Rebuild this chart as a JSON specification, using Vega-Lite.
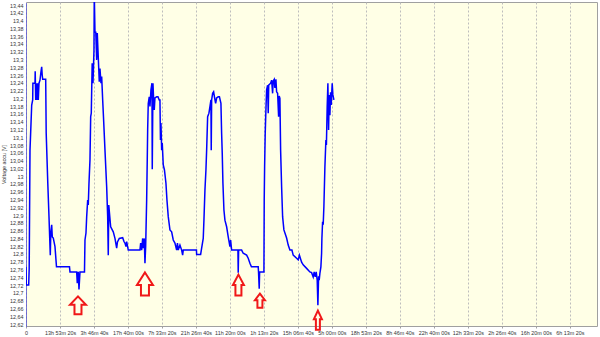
{
  "$schema": "https://vega.github.io/schema/vega-lite/v6.json",
  "width": 571,
  "height": 324,
  "autosize": {"type": "none"},
  "padding": {"left": 26, "top": 2, "right": 3, "bottom": 11},
  "background": "white",
  "config": {
    "view": {"fill": "#FFFFE6", "stroke": "#A0A0A0", "strokeWidth": 1},
    "font": "Liberation Sans",
    "axis": {"labelOverlap": false, "labelFlush": false, "labelBound": false}
  },
  "datasets": {
    "series": [
      {"t":0,"v":12.767},{"t":441,"v":12.72},{"t":3971,"v":12.72},{"t":4706,"v":12.764},{"t":5882,"v":13.067},{"t":8382,"v":13.183},{"t":9853,"v":13.196},{"t":10147,"v":13.239},{"t":13235,"v":13.239},{"t":13529,"v":13.27},{"t":14265,"v":13.196},{"t":15147,"v":13.239},{"t":16176,"v":13.196},{"t":17206,"v":13.239},{"t":18088,"v":13.196},{"t":19118,"v":13.239},{"t":20588,"v":13.247},{"t":22059,"v":13.269},{"t":23088,"v":13.281},{"t":23824,"v":13.26},{"t":24559,"v":13.249},{"t":28971,"v":13.249},{"t":29706,"v":13.111},{"t":32059,"v":12.982},{"t":33824,"v":12.896},{"t":35294,"v":12.819},{"t":35735,"v":12.797},{"t":36471,"v":12.854},{"t":37794,"v":12.875},{"t":38676,"v":12.844},{"t":40147,"v":12.841},{"t":42647,"v":12.819},{"t":44853,"v":12.767},{"t":63971,"v":12.767},{"t":64706,"v":12.754},{"t":74559,"v":12.754},{"t":75441,"v":12.725},{"t":76912,"v":12.754},{"t":77941,"v":12.709},{"t":79412,"v":12.754},{"t":86029,"v":12.754},{"t":86765,"v":12.836},{"t":88235,"v":12.854},{"t":89265,"v":12.896},{"t":90735,"v":12.939},{"t":91618,"v":12.926},{"t":92647,"v":12.982},{"t":94118,"v":13.042},{"t":95147,"v":13.153},{"t":96029,"v":13.162},{"t":97353,"v":13.29},{"t":98529,"v":13.239},{"t":100000,"v":13.324},{"t":100441,"v":13.47},{"t":101471,"v":13.37},{"t":102647,"v":13.37},{"t":103971,"v":13.299},{"t":104853,"v":13.368},{"t":105882,"v":13.324},{"t":106912,"v":13.281},{"t":107794,"v":13.243},{"t":108824,"v":13.277},{"t":110294,"v":13.239},{"t":111324,"v":13.256},{"t":112794,"v":13.196},{"t":113971,"v":13.153},{"t":116176,"v":13.067},{"t":118676,"v":12.973},{"t":120147,"v":12.896},{"t":121029,"v":12.797},{"t":121765,"v":12.926},{"t":124559,"v":12.87},{"t":128382,"v":12.857},{"t":130882,"v":12.84},{"t":133382,"v":12.815},{"t":134559,"v":12.831},{"t":137206,"v":12.84},{"t":142206,"v":12.842},{"t":144118,"v":12.832},{"t":145588,"v":12.828},{"t":147059,"v":12.819},{"t":148088,"v":12.832},{"t":150441,"v":12.81},{"t":167647,"v":12.81},{"t":168676,"v":12.828},{"t":170147,"v":12.81},{"t":171618,"v":12.84},{"t":172500,"v":12.815},{"t":173971,"v":12.84},{"t":175000,"v":12.776},{"t":176029,"v":12.819},{"t":177500,"v":12.939},{"t":178382,"v":13.042},{"t":178971,"v":13.119},{"t":179853,"v":13.187},{"t":181324,"v":13.204},{"t":182353,"v":13.179},{"t":183824,"v":13.222},{"t":185294,"v":13.239},{"t":185735,"v":13.018},{"t":186765,"v":13.239},{"t":187794,"v":13.196},{"t":188676,"v":13.17},{"t":189706,"v":13.201},{"t":192206,"v":13.204},{"t":194118,"v":13.204},{"t":196029,"v":13.196},{"t":197059,"v":13.196},{"t":197794,"v":13.093},{"t":198529,"v":13.137},{"t":199559,"v":13.067},{"t":200441,"v":13.085},{"t":201912,"v":13.029},{"t":203676,"v":13.016},{"t":205882,"v":12.982},{"t":207353,"v":12.939},{"t":209265,"v":12.896},{"t":211765,"v":12.862},{"t":214265,"v":12.857},{"t":216618,"v":12.836},{"t":219118,"v":12.828},{"t":221618,"v":12.81},{"t":222794,"v":12.828},{"t":223971,"v":12.81},{"t":226471,"v":12.823},{"t":228971,"v":12.81},{"t":230441,"v":12.797},{"t":231324,"v":12.81},{"t":250735,"v":12.81},{"t":251029,"v":12.799},{"t":256912,"v":12.799},{"t":258382,"v":12.815},{"t":260735,"v":12.84},{"t":261765,"v":12.887},{"t":263235,"v":12.964},{"t":264706,"v":13.016},{"t":265735,"v":13.067},{"t":267206,"v":13.153},{"t":269118,"v":13.162},{"t":270588,"v":13.179},{"t":272059,"v":13.196},{"t":272500,"v":13.067},{"t":273088,"v":13.196},{"t":274559,"v":13.213},{"t":276029,"v":13.217},{"t":277500,"v":13.201},{"t":278971,"v":13.187},{"t":280441,"v":13.201},{"t":282794,"v":13.204},{"t":284559,"v":13.204},{"t":286765,"v":13.187},{"t":287794,"v":13.11},{"t":288676,"v":13.06},{"t":289706,"v":12.982},{"t":291176,"v":12.913},{"t":292647,"v":12.887},{"t":295147,"v":12.87},{"t":297500,"v":12.844},{"t":300000,"v":12.819},{"t":301029,"v":12.836},{"t":302500,"v":12.81},{"t":311765,"v":12.81},{"t":312206,"v":12.752},{"t":312794,"v":12.81},{"t":317206,"v":12.81},{"t":319559,"v":12.802},{"t":324559,"v":12.797},{"t":326912,"v":12.789},{"t":329412,"v":12.776},{"t":331618,"v":12.767},{"t":341618,"v":12.767},{"t":342059,"v":12.754},{"t":343088,"v":12.711},{"t":343676,"v":12.754},{"t":350000,"v":12.754},{"t":350441,"v":12.939},{"t":351029,"v":13.024},{"t":351912,"v":13.11},{"t":352941,"v":13.17},{"t":353971,"v":13.222},{"t":355441,"v":13.234},{"t":356324,"v":13.162},{"t":357059,"v":13.234},{"t":359853,"v":13.239},{"t":361324,"v":13.247},{"t":362794,"v":13.213},{"t":363676,"v":13.245},{"t":365147,"v":13.249},{"t":366176,"v":13.227},{"t":367647,"v":13.249},{"t":368676,"v":13.217},{"t":370147,"v":13.213},{"t":371618,"v":13.153},{"t":372500,"v":13.206},{"t":373529,"v":13.2},{"t":374559,"v":13.067},{"t":376029,"v":12.973},{"t":377500,"v":12.896},{"t":379412,"v":12.862},{"t":383382,"v":12.841},{"t":385735,"v":12.823},{"t":388235,"v":12.81},{"t":391176,"v":12.81},{"t":393088,"v":12.797},{"t":398088,"v":12.789},{"t":400441,"v":12.785},{"t":402206,"v":12.797},{"t":405441,"v":12.779},{"t":407794,"v":12.772},{"t":412794,"v":12.763},{"t":417647,"v":12.754},{"t":420147,"v":12.752},{"t":422500,"v":12.741},{"t":423971,"v":12.754},{"t":425441,"v":12.741},{"t":426912,"v":12.754},{"t":428382,"v":12.733},{"t":429412,"v":12.668},{"t":430441,"v":12.743},{"t":431324,"v":12.733},{"t":432353,"v":12.75},{"t":433824,"v":12.767},{"t":434853,"v":12.802},{"t":435294,"v":12.84},{"t":436324,"v":12.883},{"t":437206,"v":12.875},{"t":438235,"v":12.922},{"t":439706,"v":13.024},{"t":441176,"v":13.093},{"t":441912,"v":13.08},{"t":443088,"v":13.179},{"t":444118,"v":13.239},{"t":445147,"v":13.119},{"t":446029,"v":13.209},{"t":447059,"v":13.157},{"t":448088,"v":13.216},{"t":448971,"v":13.183},{"t":450441,"v":13.239},{"t":451471,"v":13.209},{"t":452941,"v":13.196}
    ],
    "arrows": [
      {"id": "a1", "t": 76471, "v": 12.668},
      {"id": "a2", "t": 175000, "v": 12.723},
      {"id": "a3", "t": 312500, "v": 12.72},
      {"id": "a4", "t": 344118, "v": 12.68},
      {"id": "a5", "t": 429412, "v": 12.63}
    ]
  },
  "encoding": {
    "x": {
      "field": "t", "type": "quantitative",
      "scale": {"domain": [0, 840000], "nice": false, "zero": false},
      "axis": {
        "title": null,
        "values": [0,50000,100000,150000,200000,250000,300000,350000,400000,450000,500000,550000,600000,650000,700000,750000,800000],
        "labelExpr": "datum.value == 0 ? '0' : floor((datum.value % 86400) / 3600) + 'h ' + format(floor((datum.value % 3600) / 60), '02d') + 'm ' + format(datum.value % 60, '02d') + 's'",
        "labelFontSize": 5.4, "labelColor": "#333333", "labelPadding": 2,
        "labelOverlap": false, "labelFlush": false,
        "grid": true, "gridColor": "#BDBDBD", "gridDash": [2, 2], "gridWidth": 1,
        "ticks": true, "tickSize": 2, "tickColor": "#A0A0A0",
        "domain": false
      }
    },
    "y": {
      "field": "v", "type": "quantitative",
      "scale": {"domain": [12.6149, 13.4478], "nice": false, "zero": false},
      "axis": {
        "title": "Voltage accu [V]",
        "titleFontSize": 5.4, "titleFontWeight": "normal", "titleColor": "#333333", "titlePadding": 3,
        "values": [12.62,12.64,12.66,12.68,12.7,12.72,12.74,12.76,12.78,12.8,12.82,12.84,12.86,12.88,12.9,12.92,12.94,12.96,12.98,13,13.02,13.04,13.06,13.08,13.1,13.12,13.14,13.16,13.18,13.2,13.22,13.24,13.26,13.28,13.3,13.32,13.34,13.36,13.38,13.4,13.42,13.44],
        "labelExpr": "replace(format(datum.value, '.2~f'), '.', ',')",
        "labelFontSize": 5.4, "labelColor": "#333333", "labelPadding": 3,
        "labelOverlap": false, "labelFlush": false,
        "grid": false, "ticks": false,
        "domain": true, "domainColor": "#3030F0", "domainDash": [1, 1], "domainWidth": 1
      }
    }
  },
  "layer": [
    {
      "data": {"name": "series"},
      "mark": {"type": "line", "color": "#0000FF", "strokeWidth": 1.5, "clip": true}
    },
    {
      "data": {"name": "arrows"},
      "mark": {"type": "point", "filled": false, "stroke": "#F01818", "strokeWidth": 2, "size": 4, "opacity": 1, "clip": false},
      "encoding": {
        "shape": {
          "field": "id", "type": "nominal", "legend": null,
          "scale": {
            "domain": ["a1", "a2", "a3", "a4", "a5"],
            "range": [
              "M0,-9L8,-0.5L3.5,-0.5L3.5,9L-3.5,9L-3.5,-0.5L-8,-0.5Z",
              "M0,-11.5L8,1L4,1L4,11.5L-4,11.5L-4,1L-8,1Z",
              "M0,-10.5L5.5,0L3,0L3,10.5L-3,10.5L-3,0L-5.5,0Z",
              "M0,-7L5,-0.5L2.5,-0.5L2.5,7L-2.5,7L-2.5,-0.5L-5,-0.5Z",
              "M0,-9.5L4,-1L2,-1L2,9.5L-2,9.5L-2,-1L-4,-1Z"
            ]
          }
        }
      }
    }
  ]
}
